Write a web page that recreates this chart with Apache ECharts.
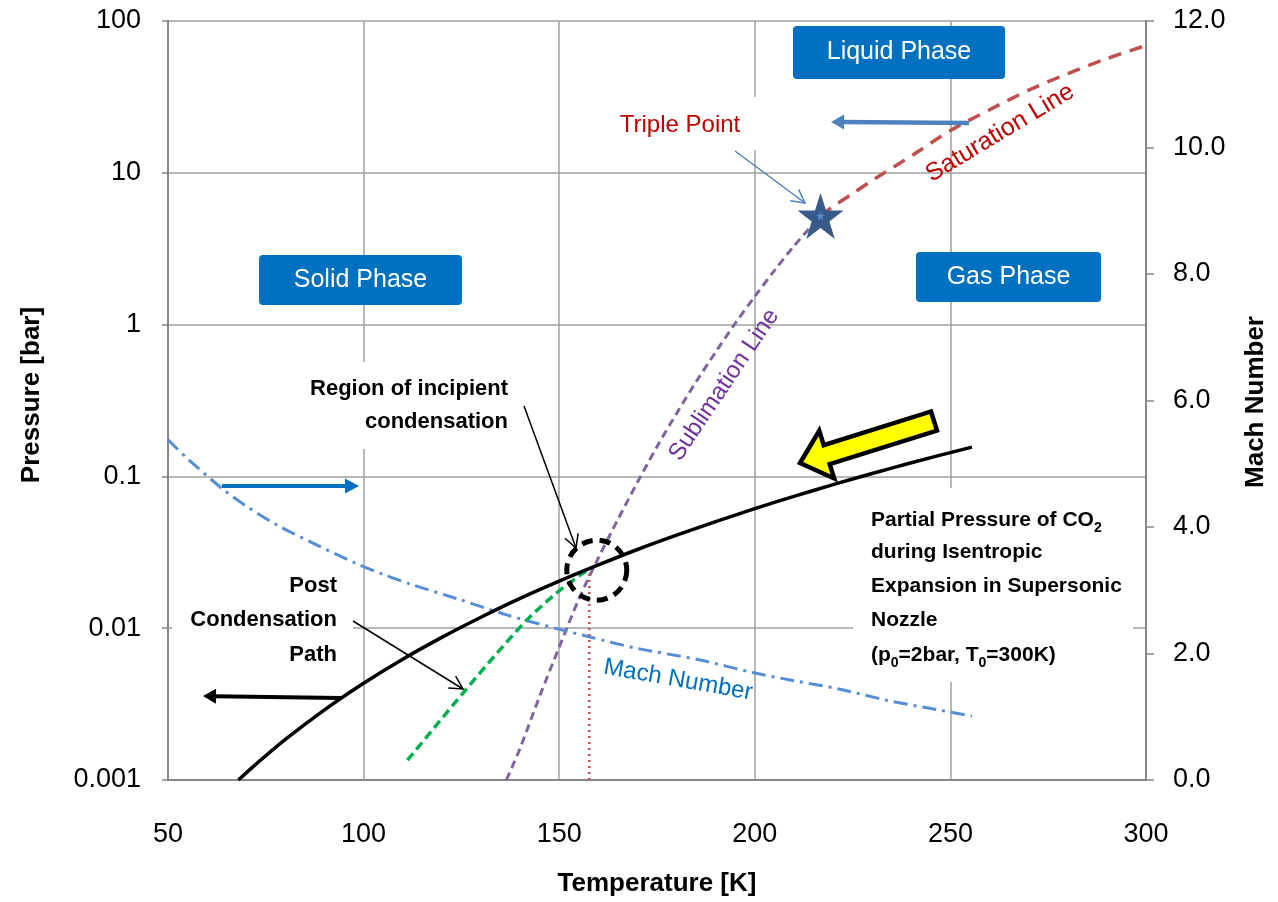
<!DOCTYPE html>
<html><head><meta charset="utf-8">
<script src="https://cdn.jsdelivr.net/npm/echarts@6/dist/echarts.min.js"></script>
<style>html,body{margin:0;padding:0;background:#fff}#c{width:1278px;height:902px}</style>
</head><body><div id="c"></div>
<script>
const FONT = '"Liberation Sans", Arial, sans-serif';

// ---- tick labels ----
const xTickValues = [50, 100, 150, 200, 250, 300];
const pressureTickLabels = ['0.001', '0.01', '0.1', '1', '10', '100'];
const machTickLabels = ['0.0', '2.0', '4.0', '6.0', '8.0', '10.0', '12.0'];

// ---- data ----
// Partial pressure of CO2 during isentropic expansion [K, bar]
const partialT = [68, 72, 80, 90, 100, 110, 120, 130, 140, 150, 160, 170, 180, 190, 200, 210, 220, 230, 240, 255.5];
const partialP = [0.001, 0.00124, 0.00185, 0.0029, 0.00434, 0.00625, 0.0087, 0.0118, 0.0157, 0.0204, 0.0261, 0.033, 0.041, 0.0504, 0.0613, 0.0739, 0.0882, 0.1045, 0.123, 0.156];
// Mach number (right axis)
const machT = [50, 55, 63.8, 70, 77.9, 88.9, 97.9, 105, 112.8, 124.7, 136.6, 149, 157.9, 170, 185.8, 199.4, 210, 221.5, 233.7, 245, 255.5];
const machM = [5.38, 5.08, 4.61, 4.33, 4.03, 3.69, 3.43, 3.25, 3.08, 2.85, 2.61, 2.40, 2.26, 2.08, 1.90, 1.70, 1.57, 1.44, 1.26, 1.13, 1.01];
// Sublimation line
const sublT = [136.5, 140, 145, 150, 155, 160, 165, 170, 175, 180, 185, 190, 195, 200, 205, 210, 216.8];
const sublP = [0.001, 0.00162, 0.00356, 0.0075, 0.0155, 0.029, 0.052, 0.0915, 0.157, 0.26, 0.42, 0.66, 1.02, 1.53, 2.27, 3.29, 5.2];
// Saturation line
const satT = [216.8, 220, 225, 230, 240, 250, 260, 270, 280, 290, 300];
const satP = [5.2, 6.0, 7.3, 8.9, 12.9, 19.0, 26.0, 35.0, 45.0, 56.5, 69.0];
// Post condensation path
const postT = [111.2, 118, 126, 134, 141.7, 149, 155.8, 157.5];
const postP = [0.00135, 0.0022, 0.0039, 0.0068, 0.0113, 0.0168, 0.0228, 0.0243];
// Drop line from incipient condensation point
const dropT = [157.7, 157.7];
const dropP = [0.001, 0.0245];
// Triple point
const tripleT = [216.8];
const tripleP = [5.2];
// Region of incipient condensation (circle centre)
const regionT = [159.6];
const regionP = [0.0241];

function pair(xs, ys) { return xs.map((x, i) => [x, ys[i]]); }

const STAR = 'path://M50,0 L61.8,35.1 L98.9,35.1 L68.9,56.9 L80.3,91.9 L50,70.3 L19.7,91.9 L31.1,56.9 L1.1,35.1 L38.2,35.1 Z';

// ---- annotation helpers (pixel space) ----
function arrowEls(x1, y1, x2, y2, color, width, headLen, headHalf, filled) {
  const dx = x2 - x1, dy = y2 - y1, L = Math.hypot(dx, dy);
  const ux = dx / L, uy = dy / L, nx = -uy, ny = ux;
  const bx = x2 - ux * headLen, by = y2 - uy * headLen;
  const els = [];
  if (filled) {
    els.push({ type: 'line', z: 60, shape: { x1: x1, y1: y1, x2: bx + ux * 2, y2: by + uy * 2 }, style: { stroke: color, lineWidth: width } });
    els.push({ type: 'polygon', z: 60, shape: { points: [[x2, y2], [bx + nx * headHalf, by + ny * headHalf], [bx - nx * headHalf, by - ny * headHalf]] }, style: { fill: color } });
  } else {
    els.push({ type: 'line', z: 60, shape: { x1: x1, y1: y1, x2: x2, y2: y2 }, style: { stroke: color, lineWidth: width } });
    els.push({ type: 'polyline', z: 60, shape: { points: [[bx + nx * headHalf, by + ny * headHalf], [x2, y2], [bx - nx * headHalf, by - ny * headHalf]] }, style: { stroke: color, lineWidth: width, fill: null } });
  }
  return els;
}
function blockArrow(tipX, tipY, tailX, tailY) {
  const dx = tailX - tipX, dy = tailY - tipY, L = Math.hypot(dx, dy);
  const bx = dx / L, by = dy / L, nx = -by, ny = bx;
  const P = (s, w) => [tipX + bx * s + nx * w, tipY + by * s + ny * w];
  const hl = 28, hw = 25, sw = 10;
  return { type: 'polygon', z: 65, shape: { points: [P(0, 0), P(hl, hw), P(hl, sw), P(L, sw), P(L, -sw), P(hl, -sw), P(hl, -hw)] },
    style: { fill: '#FFFF00', stroke: '#000', lineWidth: 4.5, lineJoin: 'miter' } };
}
function txt(x, y, text, opt) {
  opt = opt || {};
  return { type: 'text', z: 70, x: x, y: y, rotation: (opt.rot || 0) * Math.PI / 180,
    style: { text: text, fill: opt.color || '#000', fontSize: opt.size || 24, fontFamily: FONT,
      fontWeight: opt.bold ? 'bold' : 'normal', align: opt.align || 'center', verticalAlign: 'middle', rich: opt.rich } };
}
function bgRect(x, y, w, h) {
  return { type: 'rect', z: 1, shape: { x: x, y: y, width: w, height: h }, style: { fill: '#fff' } };
}
function blueBox(x, y, w, h, label) {
  return [
    { type: 'rect', z: 50, shape: { x: x, y: y, width: w, height: h, r: 4 }, style: { fill: '#0070C0' } },
    txt(x + w / 2, y + h / 2, label, { color: '#fff', size: 25 })
  ];
}
const subRich = { sub: { fontSize: 14, fontWeight: 'bold', fontFamily: FONT, verticalAlign: 'bottom', lineHeight: 30 },
                  n: { fontSize: 21, fontWeight: 'bold', fontFamily: FONT, lineHeight: 30 } };

let graphics = [];
// white backgrounds of text boxes (hide grid lines)
graphics.push(bgRect(612, 97, 146, 53));
graphics.push(bgRect(272, 362, 250, 87));
graphics.push(bgRect(172, 565, 181, 110));
graphics.push(bgRect(853, 488, 280, 194));
// blue phase boxes
graphics = graphics.concat(blueBox(793, 26, 212, 53, 'Liquid Phase'));
graphics = graphics.concat(blueBox(259, 255, 203, 50, 'Solid Phase'));
graphics = graphics.concat(blueBox(916, 252, 185, 50, 'Gas Phase'));
// labels
graphics.push(txt(680, 125, 'Triple Point', { color: '#C00000', size: 24 }));
graphics.push(txt(1000, 133, 'Saturation Line', { color: '#C00000', size: 25, rot: 31 }));
graphics.push(txt(724, 385, 'Sublimation Line', { color: '#7030A0', size: 24, rot: 56 }));
graphics.push(txt(678, 680, 'Mach Number', { color: '#0070C0', size: 24, rot: -10 }));
graphics.push(txt(508, 389, 'Region of incipient', { bold: true, size: 22, align: 'right' }));
graphics.push(txt(508, 422, 'condensation', { bold: true, size: 22, align: 'right' }));
graphics.push(txt(337, 586, 'Post', { bold: true, size: 22, align: 'right' }));
graphics.push(txt(337, 620, 'Condensation', { bold: true, size: 22, align: 'right' }));
graphics.push(txt(337, 655, 'Path', { bold: true, size: 22, align: 'right' }));
graphics.push(txt(871, 520, '{n|Partial Pressure of CO}{sub|2}', { align: 'left', rich: subRich }));
graphics.push(txt(871, 552, 'during Isentropic', { bold: true, size: 21, align: 'left' }));
graphics.push(txt(871, 586, 'Expansion in Supersonic', { bold: true, size: 21, align: 'left' }));
graphics.push(txt(871, 620, 'Nozzle', { bold: true, size: 21, align: 'left' }));
graphics.push(txt(871, 655, '{n|(p}{sub|0}{n|=2bar, T}{sub|0}{n|=300K)}', { align: 'left', rich: subRich }));
// axis titles
graphics.push(txt(657, 884, 'Temperature [K]', { bold: true, size: 26 }));
graphics.push(txt(32, 395, 'Pressure [bar]', { bold: true, size: 26, rot: 90 }));
graphics.push(txt(1256, 402, 'Mach Number', { bold: true, size: 26, rot: 90 }));
// arrows
graphics = graphics.concat(arrowEls(735, 151, 805, 203, '#4F81BD', 1.5, 13, 7, false));
graphics = graphics.concat(arrowEls(969, 123, 831, 122, '#4F81BD', 4.5, 13, 7.5, true));
graphics = graphics.concat(arrowEls(524, 406, 576, 548, '#000', 1.5, 13, 7, false));
graphics = graphics.concat(arrowEls(353, 621, 463, 689, '#000', 1.5, 13, 7, false));
graphics = graphics.concat(arrowEls(341, 698, 203, 696, '#000', 4, 13, 7.5, true));
graphics = graphics.concat(arrowEls(222, 486, 359, 486, '#0070C0', 4, 14, 7.5, true));
graphics.push(blockArrow(800, 463, 934, 421));

const axisLineStyle = { color: '#868686', width: 2 };
const gridLine = { show: true, lineStyle: { color: '#A0A0A0', width: 1.5 } };

const option = {
  animation: false,
  backgroundColor: '#fff',
  grid: { left: 168, right: 132, top: 21, bottom: 122, containLabel: false },
  xAxis: {
    type: 'value', min: xTickValues[0], max: xTickValues[xTickValues.length - 1], interval: 50,
    axisLine: { show: true, lineStyle: axisLineStyle, onZero: false },
    axisTick: { show: false },
    splitLine: gridLine,
    axisLabel: { color: '#000', fontSize: 27, fontFamily: FONT, margin: 41,
      formatter: v => String(xTickValues[xTickValues.indexOf(v)] ?? v) }
  },
  yAxis: [
    {
      type: 'log', logBase: 10, min: 0.001, max: 100, splitNumber: 5,
      axisLine: { show: true, lineStyle: axisLineStyle },
      axisTick: { show: true, length: 6, lineStyle: { color: '#868686', width: 1.5 } },
      splitLine: gridLine,
      axisLabel: { color: '#000', fontSize: 27, fontFamily: FONT, margin: 27,
        formatter: v => pressureTickLabels[Math.round(Math.log10(v)) + 3] }
    },
    {
      type: 'value', position: 'right', min: 0, max: 12, interval: 2,
      axisLine: { show: true, lineStyle: axisLineStyle },
      axisTick: { show: true, length: 8, lineStyle: { color: '#868686', width: 1.5 } },
      splitLine: { show: false },
      axisLabel: { color: '#000', fontSize: 27, fontFamily: FONT, margin: 27,
        formatter: v => machTickLabels[Math.round(v / 2)] }
    }
  ],
  series: [
    { name: 'Sublimation', type: 'line', yAxisIndex: 0, data: pair(sublT, sublP), smooth: 0.3, showSymbol: false, z: 3,
      lineStyle: { color: '#8064A2', width: 3, type: [8, 5] } },
    { name: 'Saturation', type: 'line', yAxisIndex: 0, data: pair(satT, satP), smooth: 0.3, showSymbol: false, z: 3,
      lineStyle: { color: '#C0504D', width: 3.5, type: [13, 9] } },
    { name: 'Mach', type: 'line', yAxisIndex: 1, data: pair(machT, machM), smooth: 0.3, showSymbol: false, z: 3,
      lineStyle: { color: '#558ED5', width: 3, type: [14, 6, 3, 6] } },
    { name: 'Post', type: 'line', yAxisIndex: 0, data: pair(postT, postP), smooth: 0.3, showSymbol: false, z: 4,
      lineStyle: { color: '#00B050', width: 3.5, type: [9, 5] } },
    { name: 'Drop', type: 'line', yAxisIndex: 0, data: pair(dropT, dropP), showSymbol: false, z: 3,
      lineStyle: { color: '#C0504D', width: 2.5, type: [2, 4] } },
    { name: 'Partial', type: 'line', yAxisIndex: 0, data: pair(partialT, partialP), smooth: 0.3, showSymbol: false, z: 5,
      lineStyle: { color: '#000', width: 3.5 } },
    { name: 'Region', type: 'scatter', yAxisIndex: 0, data: pair(regionT, regionP), symbol: 'circle', symbolSize: 60, z: 6,
      itemStyle: { color: 'rgba(0,0,0,0)', borderColor: '#000', borderWidth: 5, borderType: [11, 7], opacity: 1 } },
    { name: 'Triple', type: 'scatter', yAxisIndex: 0, data: pair(tripleT, tripleP), symbol: STAR, symbolSize: 46, z: 7,
      itemStyle: { color: '#385A8A', opacity: 1 } },
    { name: 'TripleInner', type: 'scatter', yAxisIndex: 0, data: pair(tripleT, tripleP), symbol: STAR, symbolSize: 9, z: 8,
      itemStyle: { color: '#5B8BC9', opacity: 1 } }
  ],
  graphic: { elements: graphics }
};

const chart = echarts.init(document.getElementById('c'));
chart.setOption(option);
</script>
</body></html>
